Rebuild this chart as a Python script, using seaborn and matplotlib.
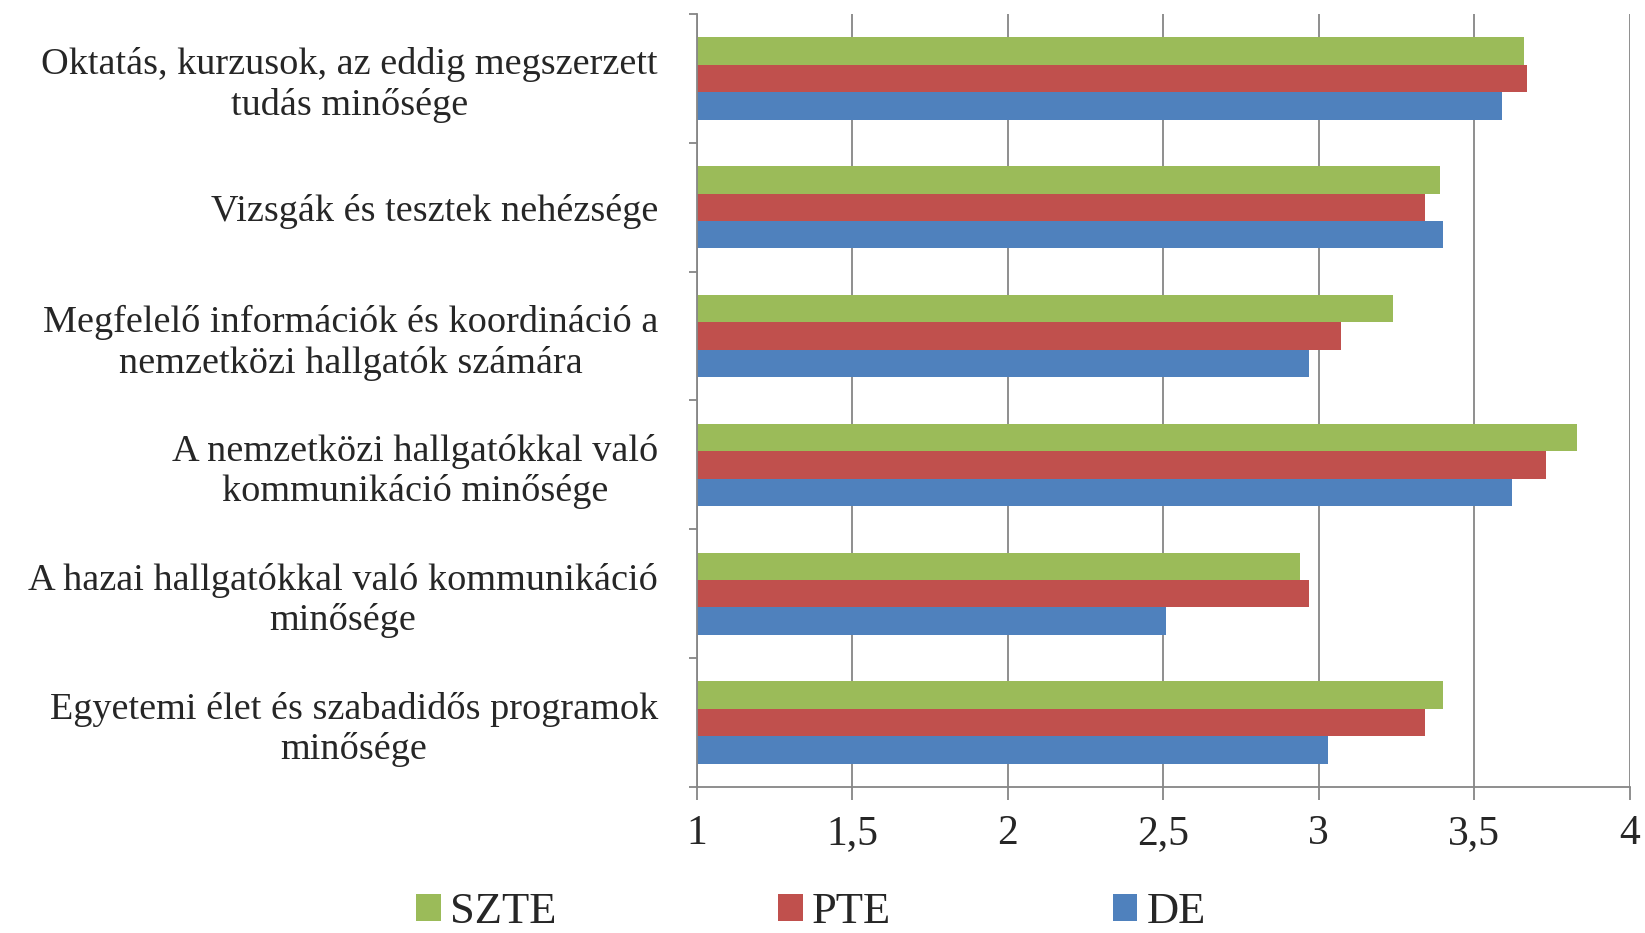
import numpy as np
import pandas as pd
import matplotlib
matplotlib.use('Agg')
import matplotlib.pyplot as plt
import seaborn as sns
from matplotlib.ticker import FuncFormatter, MultipleLocator, FixedLocator

# ============================
# data
# ============================
categories = [
    "Oktatás, kurzusok, az eddig megszerzett\ntudás minősége",
    "Vizsgák és tesztek nehézsége",
    "Megfelelő információk és koordináció a\nnemzetközi hallgatók számára",
    "A nemzetközi hallgatókkal való\nkommunikáció minősége",
    "A hazai hallgatókkal való kommunikáció\nminősége",
    "Egyetemi élet és szabadidős programok\nminősége",
]
universities = ["SZTE", "PTE", "DE"]
szte = [3.66, 3.39, 3.24, 3.83, 2.94, 3.40]
pte = [3.67, 3.34, 3.07, 3.73, 2.97, 3.34]
de = [3.59, 3.40, 2.97, 3.62, 2.51, 3.03]
colors = ["#9BBB59", "#C0504D", "#4F81BD"]

df = pd.DataFrame({
    'category': categories * 3,
    'uni': [u for u in universities for _ in categories],
    'value': szte + pte + de,
})

# ============================
# style
# ============================
sns.set_style('white')
plt.rcParams['font.family'] = ['Liberation Serif', 'DejaVu Serif']
grid_col = '#868686'

fig = plt.figure(figsize=(16.45, 9.33), dpi=100)
ax = fig.add_axes([0.4237, 0.1565, 0.567, 0.8285])

sns.barplot(data=df, x='value', y='category', hue='uni', orient='h',
            palette=colors, hue_order=universities, order=categories,
            width=0.64, saturation=1, gap=0, linewidth=0, ax=ax)

ax.set_xlim(1, 4)
ax.set_ylim(5.5, -0.5)
ax.xaxis.set_major_locator(MultipleLocator(0.5))
ax.xaxis.set_major_formatter(FuncFormatter(lambda v, p: f"{v:g}".replace('.', ',')))
ax.grid(axis='x', color=grid_col, linewidth=1.3)
ax.set_axisbelow(True)
ax.set_xlabel('')
ax.set_ylabel('')

for side in ['top', 'right']:
    ax.spines[side].set_visible(False)
for side in ['left', 'bottom']:
    ax.spines[side].set_color(grid_col)
    ax.spines[side].set_linewidth(1.3)

ax.tick_params(axis='x', length=9, width=1.3, color=grid_col, pad=11,
               labelsize=30, direction='out', bottom=True)
ax.tick_params(axis='y', which='major', length=0, pad=28, labelsize=27.5)
ax.yaxis.set_minor_locator(FixedLocator(np.arange(-0.5, 6, 1)))
ax.tick_params(axis='y', which='minor', length=6, width=1.3, color=grid_col,
               direction='out', left=True)
for lbl in ax.get_yticklabels():
    lbl.set_multialignment('center')
    lbl.set_linespacing(1.2)

# legend at the bottom
handles, labels = ax.get_legend_handles_labels()
ax.legend_.remove()
fig.legend(handles, labels, loc='center', bbox_to_anchor=(0.493, 0.022),
           ncol=3, frameon=False, fontsize=32, handlelength=0.55,
           handleheight=0.55, handletextpad=0.2, columnspacing=5.0)

plt.savefig('out.png', dpi=100)
plt.close()
